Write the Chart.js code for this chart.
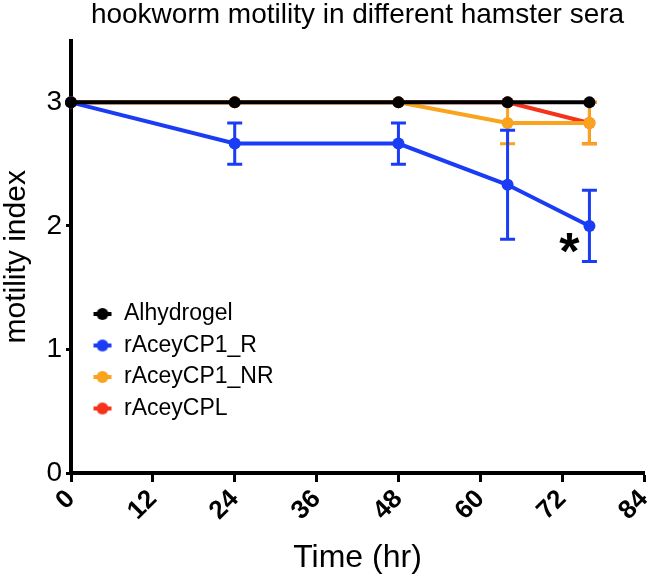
<!DOCTYPE html>
<html><head><meta charset="utf-8">
<script src="https://cdn.jsdelivr.net/npm/chart.js@4/dist/chart.umd.min.js"></script>
<style>html,body{margin:0;padding:0;background:#fff;}</style>
</head><body>
<canvas id="c" width="650" height="578"></canvas>
<script>
// ---- data ----
const timePoints = [0, 24, 48, 64, 76];
const seriesNames = ['Alhydrogel', 'rAceyCP1_R', 'rAceyCP1_NR', 'rAceyCPL'];
const alhydrogel     = [3, 3, 3, 3, 3];
const alhydrogelErr  = [0, 0, 0, 0, 0];
const rAceyCP1_R     = [3, 2.667, 2.667, 2.333, 2.0];
const rAceyCP1_RErr  = [0, 0.167, 0.167, 0.441, 0.289];
const rAceyCP1_NR    = [3, 3, 3, 2.833, 2.833];
const rAceyCP1_NRErr = [0, 0, 0, 0.167, 0.167];
const rAceyCPL       = [3, 3, 3, 3, 2.833];
const rAceyCPLErr    = [0, 0, 0, 0, 0.167];
const xTicks = [0, 12, 24, 36, 48, 60, 72, 84];
const yTicks = [0, 1, 2, 3];
const annotations = [{x: 76, y: 2, text: '*'}];

const colors = ['#000000', '#1a3cf5', '#f9a31e', '#f5321c'];
const seriesValues = [alhydrogel, rAceyCP1_R, rAceyCP1_NR, rAceyCPL];
const seriesErrors = [alhydrogelErr, rAceyCP1_RErr, rAceyCP1_NRErr, rAceyCPLErr];
const drawOrder = [0, 1, 2, 3];

function makeMarker(color) {
  const c = document.createElement('canvas');
  c.width = 20; c.height = 14;
  const g = c.getContext('2d');
  g.strokeStyle = color; g.fillStyle = color; g.lineWidth = 4;
  g.beginPath(); g.moveTo(1, 7); g.lineTo(19, 7); g.stroke();
  g.beginPath(); g.arc(10, 7, 6, 0, Math.PI * 2); g.fill();
  return c;
}
const markers = colors.map(makeMarker);

const datasets = seriesNames.map((name, k) => ({
  label: name,
  data: timePoints.map((t, i) => ({x: t, y: seriesValues[k][i]})),
  errors: seriesErrors[k],
  borderColor: colors[k],
  backgroundColor: colors[k],
  pointBackgroundColor: colors[k],
  pointBorderColor: colors[k],
  borderWidth: 4,
  pointRadius: 6,
  pointBorderWidth: 0,
  tension: 0,
  clip: false,
  order: drawOrder[k]
}));

const errorBarPlugin = {
  id: 'errorBars',
  beforeDatasetDraw(chart, args) {
    const ds = chart.data.datasets[args.index];
    if (!ds.errors) return;
    const ctx = chart.ctx, xS = chart.scales.x, yS = chart.scales.y;
    ctx.save();
    ctx.strokeStyle = ds.borderColor;
    ctx.lineWidth = 3;
    ds.data.forEach((p, i) => {
      const e = ds.errors[i];
      if (!e) return;
      const px = xS.getPixelForValue(p.x);
      const pt = yS.getPixelForValue(p.y + e);
      const pb = yS.getPixelForValue(p.y - e);
      ctx.beginPath();
      ctx.moveTo(px, pt); ctx.lineTo(px, pb);
      ctx.moveTo(px - 7.5, pt); ctx.lineTo(px + 7.5, pt);
      ctx.moveTo(px - 7.5, pb); ctx.lineTo(px + 7.5, pb);
      ctx.stroke();
    });
    ctx.restore();
  },
  afterDatasetsDraw(chart) {
    const ctx = chart.ctx, xS = chart.scales.x, yS = chart.scales.y;
    ctx.save();
    ctx.fillStyle = '#000';
    ctx.font = 'bold 52px "Liberation Sans", Arial, sans-serif';
    ctx.textAlign = 'center';
    ctx.textBaseline = 'alphabetic';
    annotations.forEach(a => {
      const m = ctx.measureText(a.text);
      const cx = xS.getPixelForValue(a.x) - 20;
      const cy = yS.getPixelForValue(a.y) + 17;
      const off = (m.actualBoundingBoxAscent - m.actualBoundingBoxDescent) / 2;
      ctx.fillText(a.text, cx, cy + off);
    });
    ctx.restore();
  },
  afterLayout(chart) {
    if (chart.legend) {
      chart.legend.left = 84;
      chart.legend.top = 294;
    }
  }
};

const fontFamily = '"Liberation Sans", Arial, Helvetica, sans-serif';

new Chart(document.getElementById('c'), {
  type: 'line',
  data: { datasets },
  options: {
    responsive: false,
    animation: false,
    devicePixelRatio: 1,
    layout: { padding: { left: 0, right: 0, top: 0, bottom: 1 } },
    scales: {
      x: {
        type: 'linear',
        min: 0, max: 84,
        afterBuildTicks: s => { s.ticks = xTicks.map(v => ({value: v})); },
        afterFit: s => { s.height = 104; s.paddingRight = 6; },
        ticks: {
          color: '#000',
          font: { family: fontFamily, size: 26, weight: 'bold' },
          minRotation: 45, maxRotation: 45,
          padding: 2,
          autoSkip: false
        },
        grid: { drawOnChartArea: false, drawTicks: true, tickLength: 9, tickWidth: 3, tickColor: '#000' },
        border: { display: true, width: 4, color: '#000' },
        title: {
          display: true, text: 'Time (hr)', color: '#000',
          font: { family: fontFamily, size: 32, weight: 'normal' },
          padding: { top: 0, bottom: 0 }
        }
      },
      y: {
        type: 'linear',
        min: 0, max: 3.5,
        afterBuildTicks: s => { s.ticks = yTicks.map(v => ({value: v})); },
        afterFit: s => { s.width = 71; },
        ticks: {
          color: '#000',
          font: { family: fontFamily, size: 28 },
          padding: 4
        },
        grid: { drawOnChartArea: false, drawTicks: true, tickLength: 5, tickWidth: 3, tickColor: '#000' },
        border: { display: true, width: 4, color: '#000' },
        title: {
          display: true, text: 'motility index', color: '#000',
          font: { family: fontFamily, size: 30, weight: 'normal' },
          padding: { top: -1, bottom: 0 }
        }
      }
    },
    plugins: {
      title: {
        display: true,
        text: 'hookworm motility in different hamster sera',
        color: '#000',
        fullSize: false,
        font: { family: fontFamily, size: 28, weight: 'normal' },
        padding: { top: -2, bottom: 9 }
      },
      legend: {
        position: 'chartArea',
        align: 'start',
        labels: {
          color: '#000',
          font: { family: fontFamily, size: 23 },
          usePointStyle: true,
          pointStyleWidth: 20,
          padding: 8.5,
          generateLabels(chart) {
            const items = Chart.defaults.plugins.legend.labels.generateLabels(chart);
            items.forEach(it => { it.pointStyle = markers[it.datasetIndex]; });
            return items;
          }
        }
      },
      tooltip: { enabled: false }
    }
  },
  plugins: [errorBarPlugin]
});
</script>
</body></html>
